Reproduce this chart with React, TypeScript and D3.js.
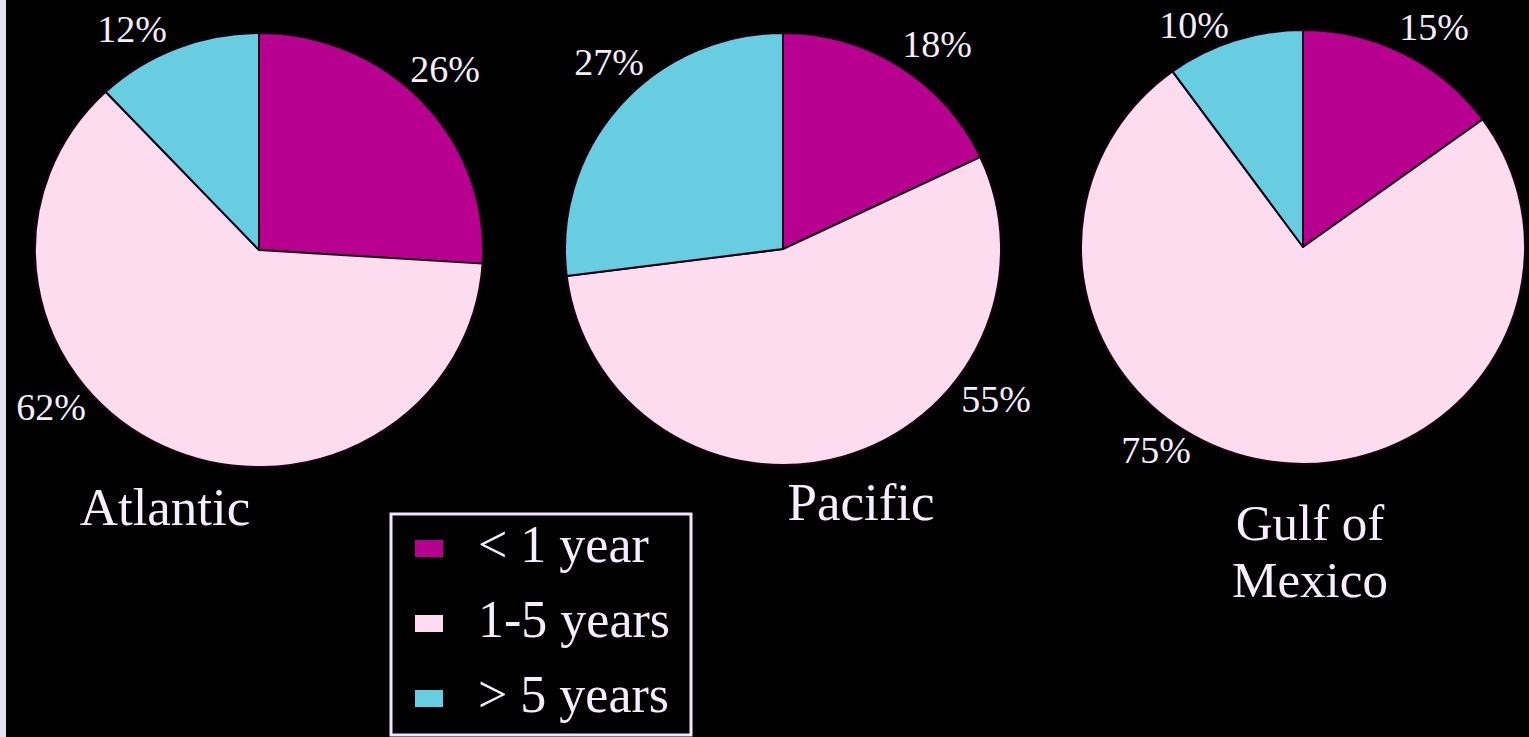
import React from "react";
import * as d3 from "d3";

// ---- data ----
const categories = ["< 1 year", "1-5 years", "> 5 years"];
const regions = ["Atlantic", "Pacific", "Gulf of Mexico"];
const atlanticValues = [26, 62, 12];
const pacificValues = [18, 55, 27];
const gulfValues = [15, 75, 10];

// ---- style / layout ----
const W = 1529;
const H = 737;
const colors = ["#b80090", "#fcdcee", "#68cde0"];
const textColor = "#f6eeff";
const FONT = "Liberation Serif, Times New Roman, DejaVu Serif, serif";

const pieLayout = [
  { cx: 259, cy: 250, rx: 224, ry: 217, titleLines: ["Atlantic"], titleX: 165, titleY: 525, titleSize: 53, lineGap: 0,
    labelOffsets: [[186, -168], [-208, 170], [-127, -208]] },
  { cx: 783, cy: 249, rx: 218, ry: 216, titleLines: ["Pacific"], titleX: 861, titleY: 520, titleSize: 53, lineGap: 0,
    labelOffsets: [[154, -192], [213, 163], [-174, -174]] },
  { cx: 1303, cy: 247, rx: 222, ry: 217, titleLines: ["Gulf of", "Mexico"], titleX: 1310, titleY: 540, titleSize: 51, lineGap: 57,
    labelOffsets: [[131, -207], [-147, 216], [-109, -209]] },
];

const seriesByRegion = [atlanticValues, pacificValues, gulfValues];

export default function App() {
  const pie = d3.pie<number>().sort(null).value((d) => d);

  return (
    <div style={{ position: "fixed", left: 0, top: 0, width: W, height: H, background: "#000" }}>
      <svg width={W} height={H} style={{ display: "block" }} fontFamily={FONT}>
        <rect x={0} y={0} width={W} height={H} fill="#000" />
        <rect x={0} y={0} width={6} height={H} fill="#e6e2ec" />
        {regions.map((region, i) => {
          const L = pieLayout[i];
          const arcs = pie(seriesByRegion[i]);
          const arcGen = d3.arc<d3.PieArcDatum<number>>().innerRadius(0).outerRadius(L.ry);
          return (
            <g key={region}>
              <g transform={`translate(${L.cx},${L.cy}) scale(${L.rx / L.ry},1)`}>
                {arcs.map((a, j) => (
                  <path
                    key={categories[j]}
                    d={arcGen(a) || ""}
                    fill={colors[j]}
                    stroke="#1a0010"
                    strokeWidth={2}
                    strokeLinejoin="round"
                    vectorEffect="non-scaling-stroke"
                  />
                ))}
              </g>
              {arcs.map((a, j) => (
                <text
                  key={"l" + j}
                  x={L.cx + L.labelOffsets[j][0]}
                  y={L.cy + L.labelOffsets[j][1]}
                  textAnchor="middle"
                  fontSize={38}
                  fontFamily={FONT}
                  fill={textColor}
                >
                  {`${a.data}%`}
                </text>
              ))}
              {L.titleLines.map((line, k) => (
                <text
                  key={"t" + k}
                  x={L.titleX}
                  y={L.titleY + k * L.lineGap}
                  textAnchor="middle"
                  fontSize={L.titleSize}
                  fontFamily={FONT}
                  fill={textColor}
                >
                  {line}
                </text>
              ))}
            </g>
          );
        })}
        {/* legend */}
        <g>
          <rect x={391} y={514} width={300} height={221} fill="#000" stroke="#f0e6ff" strokeWidth={3} />
          {categories.map((c, j) => (
            <g key={c} transform={`translate(415, ${540 + j * 75})`}>
              <rect x={0} y={0} width={28} height={17} fill={colors[j]} />
              <text x={63} y={22} fontSize={52} fontFamily={FONT} fill={textColor}>
                {c}
              </text>
            </g>
          ))}
        </g>
      </svg>
    </div>
  );
}
